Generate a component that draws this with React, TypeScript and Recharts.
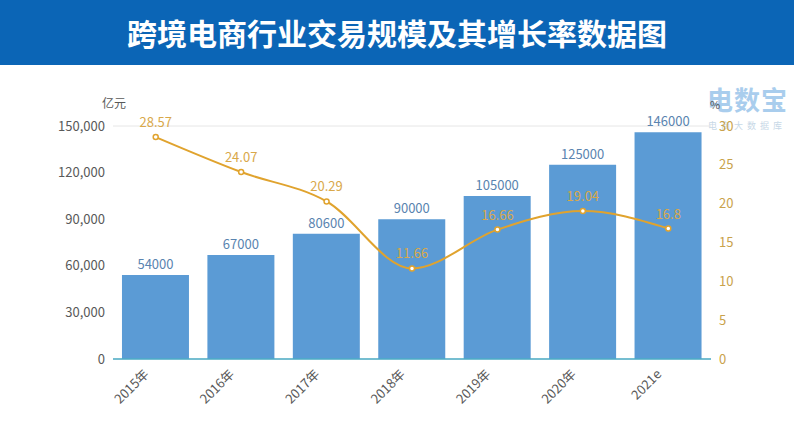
import React from 'react';
import {
  ComposedChart, Bar, Line, XAxis, YAxis, CartesianGrid, LabelList,
} from 'recharts';

const years = ['2015年', '2016年', '2017年', '2018年', '2019年', '2020年', '2021e'];
const scale = [54000, 67000, 80600, 90000, 105000, 125000, 146000];
const growth = [28.57, 24.07, 20.29, 11.66, 16.66, 19.04, 16.8];
const leftTicks = [0, 30000, 60000, 90000, 120000, 150000];
const rightTicks = [0, 5, 10, 15, 20, 25, 30];

const data = years.map((year, i) => ({ year, scale: scale[i], growth: growth[i] }));

const FONT = '"Microsoft YaHei", "Noto Sans CJK SC", "Noto Sans", sans-serif';
const BAR = '#5B9BD5';
const LINE = '#E0A32E';

const XTick = (props: any) => {
  const { x, y, payload } = props;
  return (
    <g transform={`translate(${x - 6},${y + 8})`}>
      <text textAnchor="end" transform="rotate(-45)" fill="#595959" fontSize={13} fontFamily={FONT}>
        {payload.value}
      </text>
    </g>
  );
};

export default function App() {
  return (
    <div style={{ position: 'absolute', left: 0, top: 0, width: 794, height: 424, background: '#fff', fontFamily: FONT }}>
      <div style={{
        position: 'absolute', left: 0, top: 0, width: 794, height: 65, background: '#0B65B6',
        color: '#fff', fontSize: 30, fontWeight: 700, textAlign: 'center', lineHeight: '65px', whiteSpace: 'nowrap',
      }}>
        跨境电商行业交易规模及其增长率数据图
      </div>
      {/* watermark */}
      <div style={{ position: 'absolute', left: 707, top: 80, color: '#8DBDE8', fontSize: 26, fontWeight: 700, letterSpacing: 1, whiteSpace: 'nowrap', opacity: 0.75 }}>
        电数宝
      </div>
      <div style={{ position: 'absolute', left: 708, top: 119, color: '#B5CCE0', fontSize: 9, letterSpacing: 4, whiteSpace: 'nowrap', opacity: 0.75 }}>
        电商大数据库
      </div>
      <div style={{ position: 'absolute', left: 102, top: 94, color: '#595959', fontSize: 12 }}>亿元</div>
      <div style={{ position: 'absolute', left: 0, top: 0 }}>
        <ComposedChart
          width={794}
          height={424}
          data={data}
          margin={{ top: 126, right: 40, bottom: 0, left: 0 }}
          barCategoryGap="10.5%"
        >
          <CartesianGrid vertical={false} stroke="#E6E6E6" />
          <XAxis
            dataKey="year"
            tick={<XTick />}
            tickLine={false}
            axisLine={{ stroke: '#4BACC6', strokeWidth: 1.5 }}
            interval={0}
            height={65}
          />
          <YAxis
            yAxisId="left"
            domain={[0, 150000]}
            ticks={leftTicks}
            width={113}
            axisLine={false}
            tickLine={false}
            tick={{ fill: '#595959', fontSize: 13, fontFamily: FONT }}
            tickFormatter={(v: number) => v.toLocaleString('en-US')}
          />
          <YAxis
            yAxisId="right"
            orientation="right"
            domain={[0, 30]}
            ticks={rightTicks}
            width={43}
            axisLine={false}
            tickLine={false}
            tick={{ fill: '#C9A24B', fontSize: 13, fontFamily: FONT }}
            label={{ value: '%', position: 'insideTopLeft', dx: -6, dy: -30, fill: '#595959', fontSize: 11 }}
          />
          <Bar yAxisId="left" dataKey="scale" fill={BAR} isAnimationActive={false}>
            <LabelList dataKey="scale" position="top" fill="#5A84B0" fontSize={13} fontFamily={FONT} offset={6} />
          </Bar>
          <Line
            yAxisId="right"
            type="monotone"
            dataKey="growth"
            stroke={LINE}
            strokeWidth={2}
            dot={{ r: 2.5, fill: '#fff', stroke: LINE, strokeWidth: 1.5 }}
            isAnimationActive={false}
          >
            <LabelList dataKey="growth" position="top" fill="#D9A84A" fontSize={13} fontFamily={FONT} offset={10} />
          </Line>
        </ComposedChart>
      </div>
    </div>
  );
}
